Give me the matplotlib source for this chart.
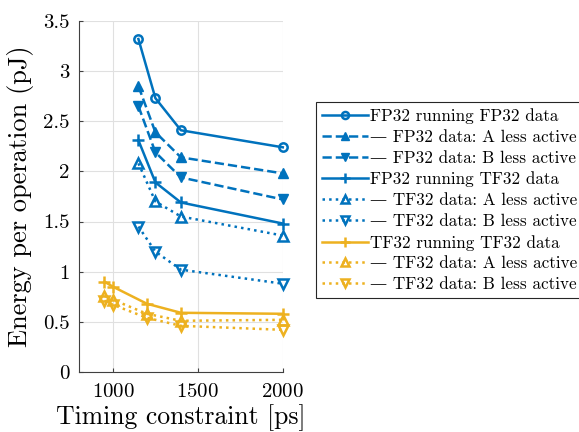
import numpy as np
import matplotlib
matplotlib.use("Agg")
import matplotlib.pyplot as plt

plt.rcParams["font.family"] = ["cmr10", "DejaVu Serif"]
plt.rcParams["mathtext.fontset"] = "cm"
plt.rcParams["axes.formatter.use_mathtext"] = True

BLUE = "#0072BD"
YELLOW = "#EDB120"

# timing constraints [ps]
t_fp = [1150, 1250, 1400, 2000]
t_tf = [950, 1000, 1200, 1400, 2000]

# energy per operation [pJ]
fp_fp = [3.32, 2.73, 2.41, 2.24]
fp_fp_a = [2.85, 2.39, 2.14, 1.98]
fp_fp_b = [2.65, 2.19, 1.94, 1.72]
fp_tf = [2.31, 1.89, 1.69, 1.48]
fp_tf_a = [2.08, 1.70, 1.55, 1.36]
fp_tf_b = [1.45, 1.20, 1.02, 0.88]
tf_tf = [0.90, 0.85, 0.68, 0.59, 0.58]
tf_tf_a = [0.76, 0.72, 0.58, 0.51, 0.52]
tf_tf_b = [0.71, 0.67, 0.54, 0.46, 0.42]

fig = plt.figure(figsize=(5.79, 4.32), dpi=100)
ax = fig.add_axes([0.1364, 0.139, 0.352, 0.8125])

lw = 1.8
kw = dict(lw=lw, clip_on=False)
ax.plot(t_fp, fp_fp, "-o", color=BLUE, ms=6, mfc="none", mew=1.8,
        label="FP32 running FP32 data", **kw)
ax.plot(t_fp, fp_fp_a, "--^", color=BLUE, ms=7,
        label="\u2014 FP32 data: A less active", **kw)
ax.plot(t_fp, fp_fp_b, "--v", color=BLUE, ms=7,
        label="\u2014 FP32 data: B less active", **kw)
ax.plot(t_fp, fp_tf, "-+", color=BLUE, ms=9, mew=1.8,
        label="FP32 running TF32 data", **kw)
ax.plot(t_fp, fp_tf_a, ":^", color=BLUE, ms=7, mfc="none", mew=1.8,
        label="\u2014 TF32 data: A less active", **kw)
ax.plot(t_fp, fp_tf_b, ":v", color=BLUE, ms=7, mfc="none", mew=1.8,
        label="\u2014 TF32 data: B less active", **kw)
ax.plot(t_tf, tf_tf, "-+", color=YELLOW, ms=9, mew=1.8,
        label="TF32 running TF32 data", **kw)
ax.plot(t_tf, tf_tf_a, ":^", color=YELLOW, ms=7, mfc="none", mew=1.8,
        label="\u2014 TF32 data: A less active", **kw)
ax.plot(t_tf, tf_tf_b, ":v", color=YELLOW, ms=7, mfc="none", mew=1.8,
        label="\u2014 TF32 data: B less active", **kw)

ax.set_xlim(800, 2000)
ax.set_ylim(0, 3.5)
ax.set_xticks([1000, 1500, 2000])
ax.set_yticks(np.arange(0, 3.51, 0.5))
ax.set_yticklabels(["0", "0.5", "1", "1.5", "2", "2.5", "3", "3.5"])
ax.tick_params(direction="in", length=3, labelsize=15, color="0.25")
ax.tick_params(axis="y", pad=7)
ax.tick_params(axis="x", pad=8)
ax.grid(True, color="0.88", lw=0.8)
ax.set_axisbelow(True)
for s in ["top", "right"]:
    ax.spines[s].set_visible(False)
for s in ["left", "bottom"]:
    ax.spines[s].set_color("0.25")

ax.set_xlabel("Timing constraint [ps]", fontsize=18.5, labelpad=2)
ax.set_ylabel("Energy per operation (pJ)", fontsize=19, labelpad=6)

leg = ax.legend(loc="upper left", bbox_to_anchor=(1.162, 0.769), fontsize=12.3,
                handlelength=2.7, handletextpad=0.1, borderpad=0.35,
                labelspacing=0.33, fancybox=False, edgecolor="0.15",
                framealpha=1, borderaxespad=0, markerscale=0.85)
leg.get_frame().set_linewidth(0.8)

fig.savefig("out.png", dpi=100)
